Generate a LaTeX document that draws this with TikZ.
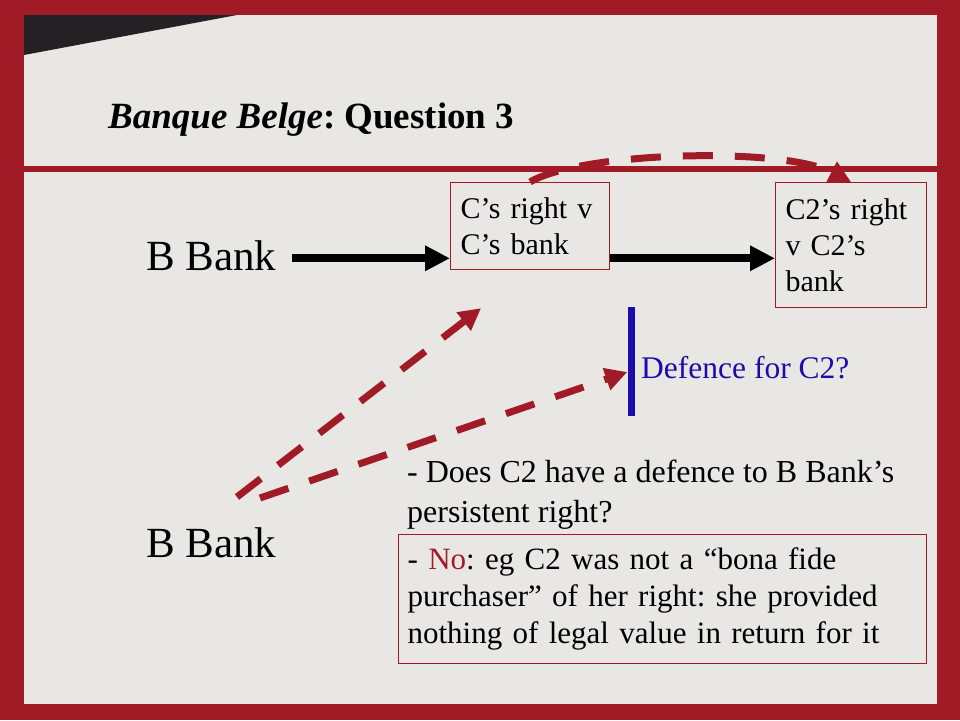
\documentclass[tikz,border=0pt]{standalone}
\usepackage{fontspec}
\setmainfont{Liberation Serif}
\usetikzlibrary{arrows.meta,positioning}
\definecolor{frame}{RGB}{160,27,38}
\definecolor{panel}{RGB}{233,231,228}
\definecolor{wedge}{RGB}{35,33,35}
\definecolor{defblue}{RGB}{28,12,170}
\frenchspacing
\begin{document}
\begin{tikzpicture} [
    x=1pt, y=-1pt,
    rbox/.style={rectangle, draw=frame, line width=1.2pt, anchor=north west, align=left, inner xsep=10pt},
    body/.style={font=\fontsize{30}{36}\selectfont},
    bank/.style={font=\fontsize{43}{50}\selectfont, anchor=base west, inner sep=0pt},
    blk/.style={line width=8pt, -{Triangle[length=25pt,width=24pt]}},
    rdash/.style={draw=frame, line width=7pt, dash pattern=on 30pt off 22pt, -{Triangle[length=22pt,width=22pt]}},
    ]
    \useasboundingbox (0,0) rectangle (960,720);
    %Background
    \fill[frame] (0,0) rectangle (960,720);
    \fill[panel] (24,15) rectangle (937,704);
    \fill[wedge] (24,15) -- (237,15) -- (24,55) -- cycle;
    \draw[frame, line width=6pt] (24,169) -- (937,169);
    %Nodes
    \node[anchor=base west, inner sep=0pt, font=\fontsize{37}{44}\selectfont\bfseries] (title) at (108,128) {\textit{Banque Belge}: Question 3};
    \node[bank]                  (bank1)  at (146,270)  {B Bank};
    \node[bank]                  (bank2)  at (146,557)  {B Bank};
    \node[rbox, body, text width=139pt, minimum height=87pt]  (crt)  at (450,182)  {C’s right v\\C’s bank};
    \node[rbox, body, text width=131pt, minimum height=125pt] (c2rt) at (775,182)  {C2’s right\\v C2’s\\bank};
    \node[fill=defblue, minimum width=7pt, minimum height=109pt, inner sep=0pt] (bar) at (631,361.5) {};
    \node[anchor=base west, text=defblue, inner sep=0pt, font=\fontsize{31.5}{36}\selectfont] (defq) at (641,378) {Defence for C2?};
    \node[font=\fontsize{32}{40}\selectfont, anchor=north west, align=left, inner xsep=9pt, inner ysep=0pt] (ques) at (398,460)
        {- Does C2 have a defence to B Bank’s\\persistent right?};
    \node[rbox, font=\fontsize{31}{37}\selectfont, inner xsep=9pt, inner ysep=13pt, text width=510pt] (ans) at (398,534)
        {- \textcolor{frame}{No}: eg C2 was not a “bona fide\\purchaser” of her right: she provided\\nothing of legal value in return for it};
    \coordinate (lvl) at ([yshift=-3pt]bank1.east);
    \coordinate (s1) at (237,497);
    \coordinate (s2) at (260,498);
    %Lines
    \draw[blk, shorten <=15pt] (lvl) -- (lvl -| crt.west);
    \draw[blk] (lvl -| crt.east) -- (lvl -| c2rt.west);
    \draw[rdash] (crt.north) .. controls +(50,-30) and +(-70,-36) .. (c2rt.north);
    \draw[rdash, shorten >=62pt] (s1) -- (crt.south);
    \draw[rdash] (s2) -- ([yshift=-10.5pt]bar.west);
\end{tikzpicture}
\end{document}
